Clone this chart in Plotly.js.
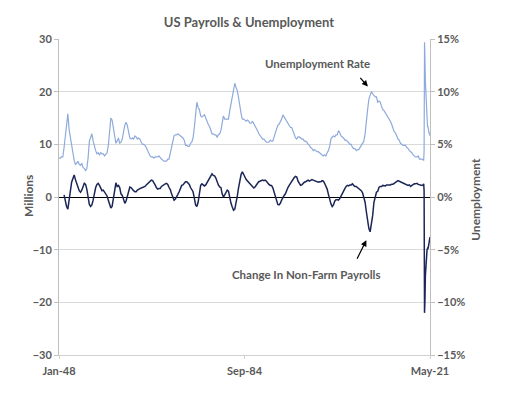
<!DOCTYPE html>
<html>
<head>
<meta charset="utf-8">
<script src="https://cdn.plot.ly/plotly-3.0.1.min.js"></script>
<style>html,body{margin:0;padding:0;background:#fff;}#chart{width:509px;height:395px;}</style>
</head>
<body>
<div id="chart"></div>
<script>
// Unemployment rate (%), quarterly 1948Q1..2019Q4
const unempQuarterly = [
3.7,3.7,3.8,3.8, 4.7,5.9,6.7,7.9, 6.4,5.6,4.6,4.2, 3.5,3.1,3.2,3.4, 3.1,3.0,3.2,2.8,
2.7,2.5,2.7,3.7, 5.3,5.8,6.0,5.3, 4.7,4.4,4.1,4.2, 4.0,4.2,4.1,4.1, 3.9,4.1,4.2,4.9,
6.3,7.5,7.3,6.4, 5.8,5.1,5.3,5.6, 5.1,5.2,5.5,6.3, 6.8,7.1,6.8,6.2, 5.6,5.5,5.6,5.5,
5.8,5.7,5.5,5.6, 5.5,5.2,5.0,5.0, 4.9,4.7,4.4,4.1, 3.9,3.8,3.8,3.7, 3.8,3.8,3.8,3.9,
3.7,3.6,3.5,3.4, 3.4,3.4,3.6,3.6, 4.2,4.8,5.2,5.8, 5.9,5.9,6.0,5.9, 5.8,5.7,5.6,5.4,
4.9,4.9,4.8,4.8, 5.1,5.2,5.6,6.6, 8.3,9.0,8.5,8.3, 7.7,7.6,7.7,7.8, 7.5,7.1,6.9,6.7,
6.3,6.0,6.0,5.9, 5.9,5.7,5.9,6.0, 6.3,7.3,7.7,7.4, 7.4,7.4,7.4,8.2, 8.8,9.4,9.9,10.8,
10.4,10.1,9.4,8.5, 7.9,7.4,7.4,7.3, 7.2,7.3,7.2,7.0, 7.0,7.2,7.0,6.8, 6.6,6.3,6.0,5.8,
5.7,5.5,5.5,5.3, 5.2,5.2,5.2,5.4, 5.3,5.3,5.7,6.1, 6.6,6.8,6.9,7.1, 7.4,7.8,7.6,7.4,
7.2,7.1,6.8,6.6, 6.6,6.2,6.0,5.6, 5.5,5.7,5.7,5.6, 5.5,5.5,5.3,5.3, 5.2,5.0,4.9,4.7,
4.6,4.4,4.5,4.4, 4.3,4.3,4.2,4.1, 4.0,3.9,4.0,3.9, 4.2,4.4,4.8,5.5, 5.7,5.8,5.7,5.9,
5.9,6.3,6.1,5.8, 5.7,5.6,5.4,5.4, 5.3,5.1,5.0,5.0, 4.7,4.6,4.6,4.4, 4.5,4.5,4.7,4.8,
5.0,5.3,6.0,6.9, 8.3,9.3,9.6,10.0, 9.8,9.6,9.5,9.5, 9.0,9.1,9.0,8.6, 8.3,8.2,8.0,7.8,
7.7,7.5,7.2,6.9, 6.6,6.2,6.1,5.7, 5.5,5.4,5.1,5.0, 4.9,4.9,4.9,4.7, 4.6,4.4,4.3,4.2,
4.0,3.9,3.8,3.8, 3.9,3.6,3.6,3.6
];
// Year-over-year change in non-farm payrolls (millions), quarterly 1949Q1..2019Q4
const payrollQuarterly = [
0.4,-1.0,-1.8,-2.3, -0.8,1.5,2.8,3.5, 4.2,3.3,2.4,1.9, 1.2,0.9,1.3,2.2, 2.6,2.4,1.5,0.0,
-1.4,-1.8,-1.5,-0.6, 0.8,1.8,2.4,2.6, 2.2,1.6,1.2,1.3, 1.0,0.6,0.2,-0.6, -1.6,-2.1,-1.8,-0.6,
1.2,2.7,2.0,2.2, 1.8,0.6,0.3,-0.4, -1.2,-0.8,0.0,1.0, 1.9,1.8,1.4,1.2, 1.0,1.0,1.3,1.5,
1.6,1.7,1.8,1.9, 2.0,2.3,2.5,2.8, 3.0,3.2,3.1,2.8, 2.3,1.8,1.5,1.6, 1.6,2.0,2.2,2.4,
2.5,2.6,2.4,1.8, 1.4,0.6,-0.2,-0.6, -0.4,0.2,0.5,1.0, 1.8,2.2,2.3,2.7, 2.9,2.9,2.6,2.4,
1.8,1.3,1.0,-0.2, -1.5,-1.8,-1.0,0.6, 2.2,2.5,2.2,2.1, 2.3,2.7,3.2,3.6, 3.8,4.4,4.1,4.0,
3.6,2.8,2.3,1.9, 1.8,0.6,0.0,0.4, 1.0,1.3,1.1,-0.2, -1.2,-1.9,-2.5,-2.3, -1.2,0.2,1.8,3.3,
4.3,4.8,4.4,3.8, 3.3,3.0,2.8,2.6, 2.2,1.9,1.7,1.9, 2.4,2.6,2.9,3.0, 3.1,3.2,3.1,3.2,
3.0,2.6,2.4,2.2, 2.2,1.8,1.0,0.2, -0.8,-1.4,-1.5,-1.2, -0.6,0.0,0.3,0.6, 1.3,1.8,2.2,2.6,
2.8,3.4,3.7,3.9, 3.8,3.0,2.6,2.2, 2.3,2.6,2.8,2.9, 3.1,3.2,3.0,3.2, 3.3,3.2,3.1,3.0,
2.9,2.8,2.9,2.9, 3.1,3.0,2.6,2.0, 1.5,0.5,-0.5,-1.3, -1.8,-1.5,-0.8,-0.5, -0.5,-0.6,-0.3,0.2,
0.8,1.4,1.6,2.0, 2.2,2.1,2.3,2.3, 2.5,2.2,2.0,2.0, 1.8,1.6,1.3,1.2, 0.8,0.0,-1.0,-2.8,
-4.5,-6.0,-6.6,-5.4, -3.5,-1.0,-0.2,0.9, 1.1,1.8,2.0,2.0, 2.2,2.1,2.1,2.3, 2.3,2.2,2.3,2.4,
2.4,2.6,2.8,3.0, 3.1,3.0,2.9,2.8, 2.7,2.5,2.5,2.3, 2.2,2.3,2.0,2.2, 2.4,2.5,2.5,2.6,
2.4,2.3,2.2,2.2
];
// Monthly, Jan 2020 .. May 2021
const monthly2020Dates = ['2020-01-01','2020-02-01','2020-03-01','2020-04-01','2020-05-01','2020-06-01',
 '2020-07-01','2020-08-01','2020-09-01','2020-10-01','2020-11-01','2020-12-01',
 '2021-01-01','2021-02-01','2021-03-01','2021-04-01','2021-05-01'];
const unempMonthly = [3.5,3.5,4.4,14.7,13.2,11.0,10.2,8.4,7.8,6.9,6.7,6.7,6.3,6.2,6.0,6.1,5.8];
const payrollMonthly = [2.3,2.5,1.2,-22.0,-19.6,-14.9,-13.2,-11.6,-10.7,-10.0,-9.8,-9.9,-9.5,-9.1,-8.4,-8.2,-7.6];

const xTickVals = ['1948-01-01','1984-09-01','2021-05-01'];
const xTickText = ['Jan-48','Sep-84','May-21'];

function quarterDates(startYear, count) {
  const out = [];
  for (let i = 0; i < count; i++) {
    const y = startYear + Math.floor(i / 4);
    const m = ['01','04','07','10'][i % 4];
    out.push(y + '-' + m + '-01');
  }
  return out;
}

const unempX = quarterDates(1948, unempQuarterly.length).concat(monthly2020Dates);
const unempY = unempQuarterly.concat(unempMonthly);
const payX = quarterDates(1949, payrollQuarterly.length).concat(monthly2020Dates);
const payY = payrollQuarterly.concat(payrollMonthly);

const FONT = 'Lato, "Open Sans", sans-serif';
const GREY = '#595959';
const bold = (size) => ({family: FONT, size: size, color: GREY, weight: 'bold'});

const traces = [
  {x: payX, y: payY, type: 'scatter', mode: 'lines', yaxis: 'y',
   line: {color: '#1b2656', width: 1.5}, hoverinfo: 'skip'},
  {x: unempX, y: unempY, type: 'scatter', mode: 'lines', yaxis: 'y2',
   line: {color: '#8eaadb', width: 1.2}, hoverinfo: 'skip'}
];

const layout = {
  width: 509, height: 395,
  margin: {l: 59, r: 79, t: 39, b: 40},
  paper_bgcolor: '#fff', plot_bgcolor: '#fff',
  showlegend: false,
  font: bold(11),
  title: {text: 'US Payrolls & Unemployment', x: 0.512, xref: 'paper', y: 0.955, yref: 'container',
          xanchor: 'center', font: bold(13)},
  xaxis: {type: 'date', range: ['1948-01-01','2021-05-01'], tickvals: xTickVals, ticktext: xTickText,
          showgrid: false, zeroline: false, showline: true, linecolor: '#D0D0D0', linewidth: 1,
          ticks: 'outside', ticklen: 3, tickcolor: '#D0D0D0', ticklabelstandoff: 3,
          tickfont: bold(11)},
  yaxis: {range: [-30, 30], dtick: 10, tick0: 0, showgrid: true, gridcolor: '#DADADA',
          zeroline: true, zerolinecolor: '#000', zerolinewidth: 1,
          showline: true, linecolor: '#BFBFBF', linewidth: 1,
          ticks: 'outside', ticklen: 4, tickcolor: '#BFBFBF',
          tickfont: bold(11)},
  yaxis2: {range: [-15, 15], dtick: 5, tick0: 0, overlaying: 'y', side: 'right',
           showgrid: false, zeroline: false, ticksuffix: '%',
           showline: true, linecolor: '#BFBFBF', linewidth: 1,
           ticks: 'outside', ticklen: 4, tickcolor: '#BFBFBF',
           tickfont: bold(11)},
  annotations: [
    {text: 'Millions', xref: 'paper', yref: 'paper', x: -0.084, y: 0.503, textangle: -90,
     xanchor: 'center', yanchor: 'middle', showarrow: false, font: bold(12)},
    {text: 'Unemployment', xref: 'paper', yref: 'paper', x: 1.124, y: 0.491, textangle: -90,
     xanchor: 'center', yanchor: 'middle', showarrow: false, font: bold(12)},
    {text: 'Unemployment Rate', xref: 'paper', yref: 'paper', x: 0.698, y: 0.924,
     xanchor: 'center', yanchor: 'middle', showarrow: false, font: bold(11.5)},
    {text: '', xref: 'x', yref: 'y', x: '2009-01-20', y: 21.0, ax: -9, ay: -10,
     showarrow: true, arrowhead: 2, arrowsize: 1, arrowwidth: 1.2, arrowcolor: '#000'},
    {text: 'Change In Non-Farm Payrolls', xref: 'paper', yref: 'paper', x: 0.666, y: 0.256,
     xanchor: 'center', yanchor: 'middle', showarrow: false, font: bold(11.5)},
    {text: '', xref: 'x', yref: 'y', x: '2008-10-01', y: -8.2, ax: -10, ay: 20,
     showarrow: true, arrowhead: 2, arrowsize: 1, arrowwidth: 1.2, arrowcolor: '#000'}
  ]
};

Plotly.newPlot('chart', traces, layout, {displayModeBar: false, staticPlot: true});
</script>
</body>
</html>
